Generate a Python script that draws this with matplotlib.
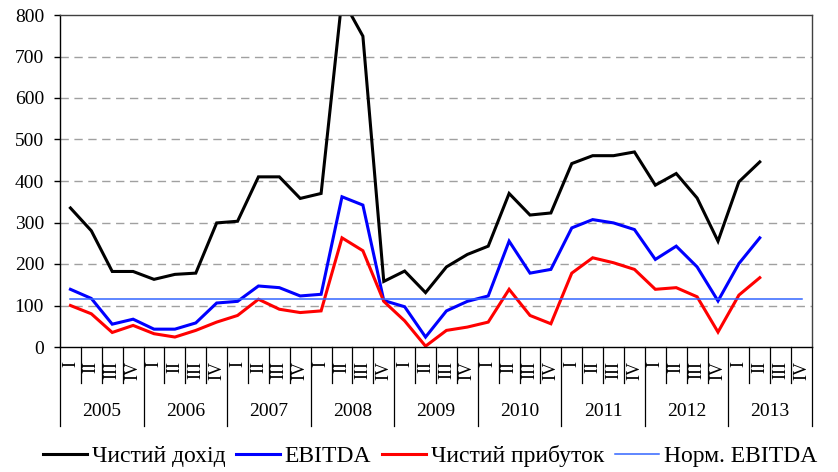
import matplotlib
matplotlib.use("Agg")
import matplotlib.pyplot as plt
import numpy as np

years = ["2005", "2006", "2007", "2008", "2009", "2010", "2011", "2012", "2013"]
quarters = ["I", "II", "III", "IV"]

net_revenue = [335, 280, 182, 182, 163, 175, 178, 299, 303, 410, 410, 358,
               370, 840, 749, 158, 183, 131, 193, 223, 243, 370, 318, 323,
               442, 461, 461, 470, 390, 418, 359, 255, 398, 446]
ebitda = [139, 117, 55, 67, 43, 43, 58, 106, 110, 147, 143, 123,
          127, 362, 342, 112, 97, 24, 87, 110, 123, 255, 178, 187,
          287, 307, 299, 283, 211, 243, 193, 111, 201, 263]
net_profit = [100, 80, 35, 52, 32, 24, 40, 60, 76, 115, 91, 83,
              87, 263, 232, 110, 63, 2, 40, 48, 60, 139, 76, 56,
              178, 215, 203, 187, 139, 143, 121, 36, 125, 167]
norm_ebitda = [115] * 36

series_names = ["Чистий дохід", "EBITDA", "Чистий прибуток", "Норм. EBITDA"]

plt.rcParams['font.family'] = ['Liberation Serif', 'DejaVu Serif']

W, H = 838, 472
fig = plt.figure(figsize=(W / 100, H / 100), dpi=100)
L, R, T, B = 60, 812, 15, 347
ax = fig.add_axes([L / W, 1 - B / H, (R - L) / W, (B - T) / H])

nq = len(years) * len(quarters)
x_all = np.arange(nq)
n = len(net_revenue)
x = np.arange(n)

ax.plot(x, net_revenue, color='black', lw=2.2, label=series_names[0], solid_joinstyle='miter')
ax.plot(x, ebitda, color='#0000FF', lw=2.2, label=series_names[1], solid_joinstyle='miter')
ax.plot(x, net_profit, color='#FF0000', lw=2.2, label=series_names[2], solid_joinstyle='miter')
ax.plot(x_all, norm_ebitda, color='#3366FF', lw=1.1, label=series_names[3])

ax.set_xlim(-0.5, nq - 0.5)
ax.set_ylim(0, 800)
ax.set_yticks(np.arange(0, 801, 100))
for yv in range(100, 800, 100):
    ax.axhline(yv, color='#A0A0A0', lw=1.0, dashes=(6, 4), zorder=0)

ax.tick_params(axis='y', direction='out', length=4.5, width=1, pad=7, labelsize=14)
ax.set_xticks([])
for s in ['left', 'bottom']:
    ax.spines[s].set_color('black')
    ax.spines[s].set_linewidth(1.0)
for s in ['top', 'right']:
    ax.spines[s].set_color('#404040')
    ax.spines[s].set_linewidth(1.0)

trans = ax.get_xaxis_transform()
px = 1.0 / (B - T)
q_bottom = -(383 - B) * px
y_bottom = -(426 - B) * px
for i in range(nq + 1):
    xb = i - 0.5
    if i % 4 == 0:
        ax.plot([xb, xb], [0, y_bottom], transform=trans, color='black', lw=0.9, clip_on=False)
    else:
        ax.plot([xb, xb], [0, q_bottom], transform=trans, color='black', lw=0.9, clip_on=False)
for i in range(nq):
    ax.text(i, -(361 - B) * px, quarters[i % 4], rotation=90, ha='center', va='top',
            fontsize=13, transform=trans)
for k, yr in enumerate(years):
    ax.text(4 * k + 1.5, -(411 - B) * px, yr, ha='center', va='center',
            fontsize=14, transform=trans)

leg = fig.legend(loc='center', bbox_to_anchor=(0.513, 1 - 456 / H), ncol=4, frameon=False,
                 fontsize=17, handlelength=1.85, handletextpad=0.22, columnspacing=0.45,
                 borderaxespad=0)

fig.savefig("out.png", dpi=100)
